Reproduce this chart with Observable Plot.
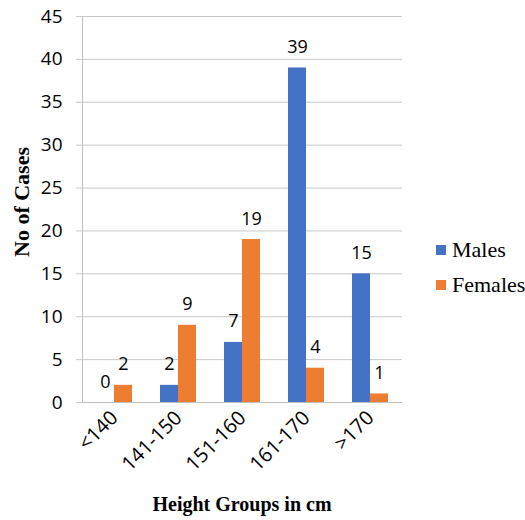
<!DOCTYPE html>
<html>
<head>
<meta charset="utf-8">
<script src="https://cdn.jsdelivr.net/npm/d3@7"></script>
<script src="https://cdn.jsdelivr.net/npm/@observablehq/plot@0.6"></script>
<style>
  html, body { margin: 0; padding: 0; background: #fff; }
  #wrap { position: relative; width: 525px; height: 520px; overflow: hidden; }
  .ytitle { position: absolute; left: 22px; top: 202px; transform: translate(-50%, -50%) rotate(-90deg);
    font-family: "Liberation Serif", "Times New Roman", serif; font-weight: bold; font-size: 22px; white-space: nowrap; color: #000; line-height: 1; }
  .xtitle { position: absolute; left: 242px; top: 494px; transform: translateX(-50%);
    font-family: "Liberation Serif", "Times New Roman", serif; font-weight: bold; font-size: 20px; white-space: nowrap; color: #000; line-height: 1; }
  .legend { position: absolute; left: 436px; font-family: "Liberation Serif", "Times New Roman", serif; font-size: 22px; color: #000; }
  .legend .item { position: absolute; display: flex; align-items: center; white-space: nowrap; line-height: 1; }
  .legend .sw { width: 10px; height: 10px; margin-right: 6px; }
</style>
</head>
<body>
<div id="wrap"></div>
<script>
const categories = ["<140", "141-150", "151-160", "161-170", ">170"];
const series = ["Males", "Females"];
const males = [0, 2, 7, 39, 15];
const females = [2, 9, 19, 4, 1];
const colors = ["#4472C4", "#ED7D31"];
const yTicks = [0, 5, 10, 15, 20, 25, 30, 35, 40, 45];
const xTitle = "Height Groups in cm";
const yTitle = "No of Cases";

const data = [];
categories.forEach((c, i) => {
  data.push({group: c, sex: "Males", value: males[i]});
  data.push({group: c, sex: "Females", value: females[i]});
});

const chart = Plot.plot({
  width: 525,
  height: 520,
  marginLeft: 82,
  marginRight: 123,
  marginTop: 16,
  marginBottom: 118,
  style: {fontFamily: "'Open Sans', sans-serif", fontSize: "18px", color: "#000", background: "#fff"},
  fx: {domain: categories, padding: 0, label: null},
  x: {domain: series, paddingInner: 0, paddingOuter: 0.73, axis: null, label: null},
  y: {domain: [0, 45], label: null},
  color: {domain: series, range: colors},
  marks: [
    Plot.gridY(yTicks, {stroke: "#c8c8c8", strokeOpacity: 1}),
    Plot.axisY(yTicks, {tickSize: 6, tickPadding: 14, stroke: "#c8c8c8", fill: "#000", fontSize: 19, label: null}),
    Plot.frame({anchor: "left", facetAnchor: "left", stroke: "#bfbfbf"}),
    Plot.ruleY([0], {stroke: "#bfbfbf"}),
    Plot.barY(data, {fx: "group", x: "sex", y: "value", fill: "sex"}),
    Plot.text(data, {fx: "group", x: "sex", y: "value", text: d => String(d.value), lineAnchor: "bottom", dy: -15, fill: "#000"}),
    Plot.axisFx({anchor: "bottom", tickRotate: -45, tickSize: 0, tickPadding: 12, fontSize: 20, label: null, fill: "#000"})
  ]
});

const wrap = document.getElementById("wrap");
wrap.appendChild(chart);

const yt = document.createElement("div");
yt.className = "ytitle";
yt.textContent = yTitle;
wrap.appendChild(yt);

const xt = document.createElement("div");
xt.className = "xtitle";
xt.textContent = xTitle;
wrap.appendChild(xt);

const lg = document.createElement("div");
lg.className = "legend";
lg.style.top = "0px";
series.forEach((s, i) => {
  const it = document.createElement("div");
  it.className = "item";
  it.style.top = (239 + i * 35) + "px";
  const sw = document.createElement("span");
  sw.className = "sw";
  sw.style.background = colors[i];
  const tx = document.createElement("span");
  tx.textContent = s;
  it.appendChild(sw);
  it.appendChild(tx);
  lg.appendChild(it);
});
wrap.appendChild(lg);
</script>
</body>
</html>
